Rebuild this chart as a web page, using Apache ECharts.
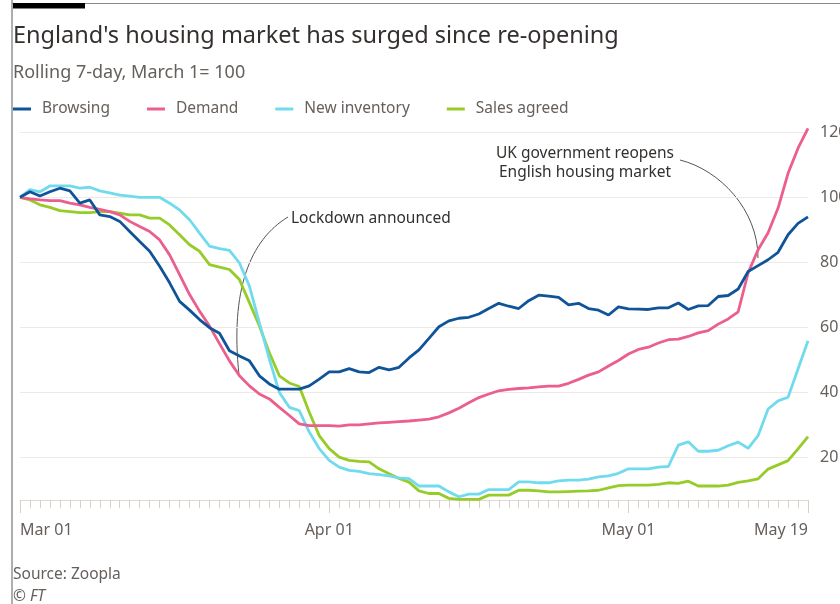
<!DOCTYPE html>
<html>
<head>
<meta charset="utf-8">
<title>England's housing market</title>
<script src="https://cdn.jsdelivr.net/npm/echarts@6/dist/echarts.min.js"></script>
<style>
  html, body { margin: 0; padding: 0; background: #fff; }
  #chart { width: 840px; height: 604px; }
</style>
</head>
<body>
<div id="chart"></div>
<script>
// days since Mar 01 (Mar 01 = 0 ... May 19 = 79)
const tickDays = [0, 31, 61, 79];
const tickLabels = ['Mar 01', 'Apr 01', 'May 01', 'May 19'];
const yTicks = [20, 40, 60, 80, 100, 120];

const browsing = [
  100, 101.7, 100.4, 101.7, 102.8, 102, 98.2, 99.2, 94.6, 94.1,
  92.6, 89.5, 86.4, 83.4, 78.8, 73.7, 68, 65.3, 62.4, 59.9,
  58.2, 52.8, 51.2, 49.7, 45.1, 42.6, 41, 41, 41, 42,
  44.1, 46.3, 46.3, 47.3, 46.3, 46.1, 47.7, 46.9, 47.7, 50.6,
  53.1, 56.6, 60.2, 62, 62.8, 63.1, 64.1, 65.8, 67.4, 66.5,
  65.8, 68.2, 69.9, 69.6, 69.2, 66.9, 67.4, 65.8, 65.3, 63.8,
  66.3, 65.7, 65.6, 65.5, 66, 66, 67.5, 65.5, 66.6, 66.7,
  69.5, 69.8, 71.8, 77.2, 79, 80.8, 83.1, 88.5, 92, 94
];
const demand = [
  100, 99.5, 99.2, 99, 99, 98.2, 97.7, 96.9, 96.3, 95.6,
  94.6, 92.6, 91, 89.5, 86.9, 82.3, 76.2, 70.1, 65, 60.4,
  55, 49.7, 45.1, 42, 39.5, 38, 35.4, 32.9, 30.3, 29.8,
  29.8, 29.8, 29.6, 30, 30, 30.3, 30.6, 30.8, 31, 31.2,
  31.5, 31.8, 32.5, 33.7, 35.1, 36.8, 38.4, 39.5, 40.5, 40.9,
  41.2, 41.4, 41.7, 41.9, 41.9, 42.8, 44, 45.3, 46.3, 48.1,
  49.8, 51.8, 53.2, 53.9, 55.2, 56.2, 56.4, 57.2, 58.3, 59,
  61, 62.6, 64.8, 76.8, 83.9, 89.1, 96.7, 107.4, 115.1, 121.2
];
const newInventory = [
  100, 102.4, 101.7, 103.5, 103.5, 103.5, 102.8, 103.1, 102, 101.4,
  100.7, 100.4, 100, 100, 100, 98.2, 96.1, 93.1, 89, 85,
  84.2, 83.7, 79.8, 72.7, 61.4, 50.2, 40, 35.4, 34.4, 27.8,
  22.7, 19.1, 17, 16, 15.7, 15, 14.7, 14.3, 13.7, 13.5,
  11.2, 11.2, 11.2, 9.4, 7.9, 8.7, 8.7, 10.1, 10.1, 10.1,
  12.5, 12.5, 12.2, 12.2, 12.8, 13, 13, 13.3, 14, 14.3,
  15.1, 16.5, 16.5, 16.5, 17, 17.2, 23.8, 24.8, 21.9, 21.9,
  22.2, 23.6, 24.7, 22.8, 26.7, 34.9, 37.4, 38.5, 47.2, 55.9
];
const salesAgreed = [
  100, 99.2, 97.7, 96.9, 95.9, 95.6, 95.3, 95.3, 95.6, 95.6,
  95.1, 94.6, 94.6, 93.6, 93.6, 91.5, 88.5, 85.4, 83.4, 79.3,
  78.5, 77.8, 74.7, 67.6, 60.4, 52.2, 45.1, 42.9, 41.8, 33.9,
  26.7, 22.7, 20.1, 19.1, 18.8, 18.6, 16.5, 15, 13.5, 12.4,
  9.7, 8.9, 8.9, 7.4, 7.1, 7.1, 7.1, 8.4, 8.4, 8.4,
  9.9, 9.9, 9.7, 9.4, 9.4, 9.5, 9.6, 9.7, 9.9, 10.6,
  11.3, 11.5, 11.5, 11.5, 11.7, 12.2, 12, 12.7, 11.2, 11.2,
  11.2, 11.5, 12.3, 12.8, 13.4, 16.4, 17.7, 19, 22.6, 26.4
];

const seriesNames = ['Browsing', 'Demand', 'New inventory', 'Sales agreed'];
const seriesColors = ['#0f5499', '#eb5e8d', '#70dbed', '#96cc28'];
const seriesValues = [browsing, demand, newInventory, salesAgreed];

const days = browsing.map((v, i) => i);
const font = 'Noto Sans';
const textDark = '#33302e';
const textGrey = '#66605c';

const chart = echarts.init(document.getElementById('chart'), null, { renderer: 'canvas' });

const option = {
  backgroundColor: '#fff',
  animation: false,
  textStyle: { fontFamily: font },
  title: [
    { text: "England's housing market has surged since re-opening", left: 13, top: 24, padding: 0,
      textStyle: { fontSize: 23.5, fontWeight: 'normal', color: textDark, fontFamily: font } },
    { text: 'Rolling 7-day, March 1= 100', left: 13, top: 64, padding: 0,
      textStyle: { fontSize: 18, fontWeight: 'normal', color: textGrey, fontFamily: font } },
    { text: 'Source: Zoopla', left: 13, top: 567, padding: 0,
      textStyle: { fontSize: 15.5, fontWeight: 'normal', color: textGrey, fontFamily: font } },
    { text: '© FT', left: 13, top: 589, padding: 0,
      textStyle: { fontSize: 15.5, fontWeight: 'normal', fontStyle: 'italic', color: textGrey, fontFamily: font } }
  ],
  legend: {
    data: seriesNames,
    left: 13,
    top: 101,
    padding: 0,
    icon: 'rect',
    itemWidth: 18,
    itemHeight: 3,
    itemGap: 37,
    selectedMode: false,
    textStyle: { fontSize: 15.5, color: textGrey, fontFamily: font, padding: [0, 0, 0, 6] }
  },
  grid: { left: 20, right: 32, top: 119.3, bottom: 104, outerBoundsMode: 'none' },
  xAxis: [
    {
      type: 'value', position: 'bottom', min: 0, max: 79,
      axisLine: { show: true, lineStyle: { color: '#e2dad2', width: 1 } },
      axisTick: { show: true, customValues: days, length: 8, lineStyle: { color: '#d8d0c8' } },
      axisLabel: {
        customValues: tickDays, margin: 22, fontSize: 16, color: textGrey, fontFamily: font,
        alignMinLabel: 'left', alignMaxLabel: 'right',
        formatter: v => tickLabels[tickDays.indexOf(v)]
      },
      splitLine: { show: false }
    },
    {
      type: 'value', position: 'bottom', min: 0, max: 79,
      axisLine: { show: false },
      axisTick: { show: true, customValues: tickDays, length: 13, lineStyle: { color: '#d8d0c8' } },
      axisLabel: { show: false },
      splitLine: { show: false }
    }
  ],
  yAxis: {
    type: 'value', position: 'right', min: 6.9, max: 124,
    axisLine: { show: false },
    axisTick: { show: false, customValues: yTicks },
    axisLabel: { customValues: yTicks, margin: 12, fontSize: 16, color: textGrey, fontFamily: font },
    splitLine: { show: true, lineStyle: { color: '#efe9e3', width: 1 } }
  },
  series: seriesNames.map((name, k) => ({
    name: name,
    type: 'line',
    xAxisIndex: 0,
    data: seriesValues[k].map((v, i) => [days[i], v]),
    showSymbol: false,
    symbol: 'none',
    clip: false,
    color: seriesColors[k],
    lineStyle: { width: 2.8, color: seriesColors[k] },
    emphasis: { disabled: true },
    z: 10 - k
  })),
  graphic: [
    // frame of the original screenshot
    { type: 'line', shape: { x1: 12, y1: 0, x2: 12, y2: 604 }, style: { stroke: '#9a9a9a', lineWidth: 1.6 } },
    { type: 'line', shape: { x1: 12, y1: 3.5, x2: 840, y2: 3.5 }, style: { stroke: '#8a8a8a', lineWidth: 1 } },
    { type: 'rect', shape: { x: 13, y: 3, width: 72, height: 5.5 }, style: { fill: '#000' } },
    // annotations
    { type: 'text', left: 291, top: 211, style: { text: 'Lockdown announced', font: '15.5px "Noto Sans"', fill: textDark } },
    { type: 'bezierCurve', shape: { x1: 288, y1: 217, cpx1: 250, cpy1: 240, cpx2: 230, cpy2: 290, x2: 239, y2: 375 },
      style: { stroke: '#555', lineWidth: 1, fill: null } },
    { type: 'text', x: 585, y: 144, style: { text: 'UK government reopens\nEnglish housing market', font: '15.5px "Noto Sans"',
      fill: textDark, align: 'center', lineHeight: 19 } },
    { type: 'bezierCurve', shape: { x1: 680, y1: 160, cpx1: 720, cpy1: 170, cpx2: 758, cpy2: 210, x2: 758, y2: 258 },
      style: { stroke: '#555', lineWidth: 1, fill: null } }
  ]
};

chart.setOption(option);
</script>
</body>
</html>
